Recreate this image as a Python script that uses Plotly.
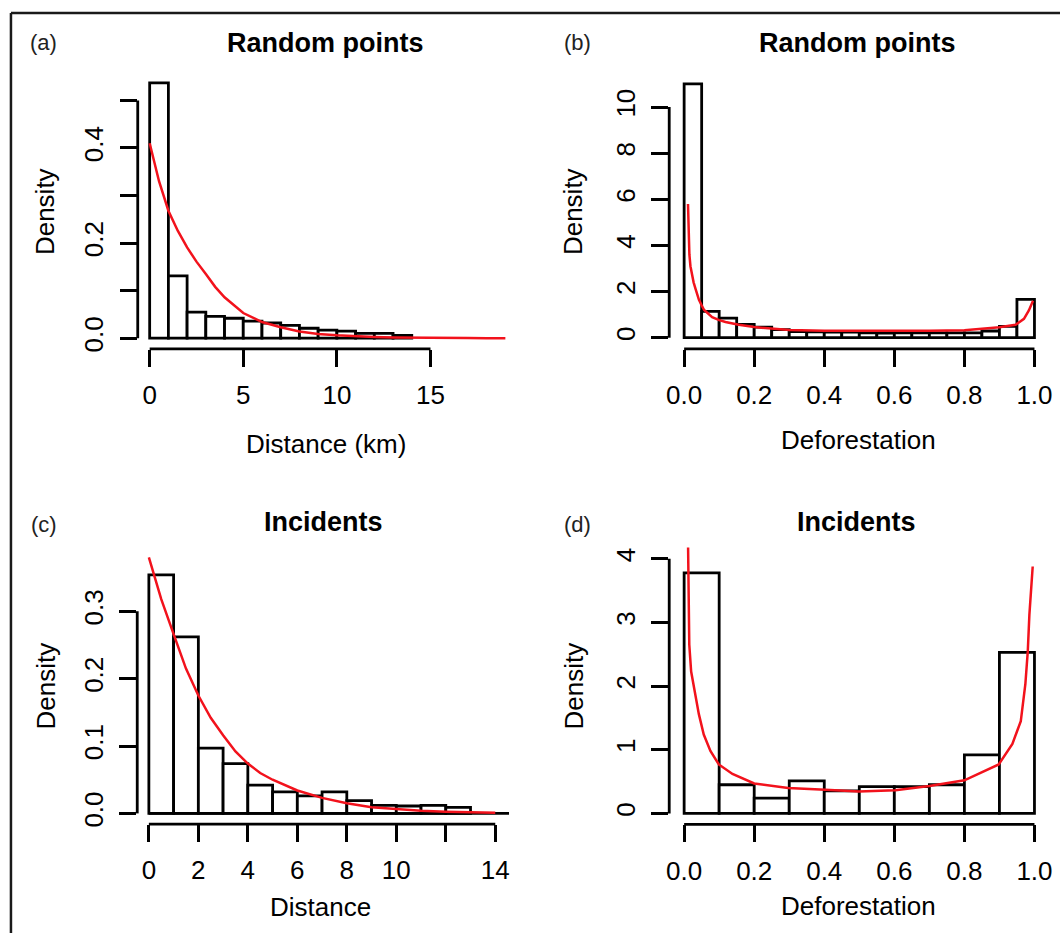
import plotly.graph_objects as go

# ---------------- data ----------------
# (a) Random points - distance (km)
a_edges = [0, 1, 2, 3, 4, 5, 6, 7, 8, 9, 10, 11, 12, 13, 14]
a_density = [0.537, 0.131, 0.055, 0.046, 0.042, 0.036, 0.032, 0.027, 0.021, 0.017, 0.015, 0.010, 0.010, 0.006]
a_curve_x = [0, 0.5, 1, 1.5, 2, 2.5, 3, 3.5, 4, 5, 6, 7, 8, 9, 10, 11, 12, 13, 14, 15, 16, 17, 18, 19]
a_curve_y = [0.41, 0.33, 0.268, 0.226, 0.191, 0.161, 0.135, 0.108, 0.086, 0.053, 0.034, 0.023, 0.014,
             0.009, 0.006, 0.004, 0.0025, 0.0016, 0.001, 0.0007, 0.0004, 0.0003, 0.0002, 0.0001]

# (b) Random points - deforestation
b_edges = [0.0, 0.05, 0.1, 0.15, 0.2, 0.25, 0.3, 0.35, 0.4, 0.45, 0.5, 0.55, 0.6, 0.65, 0.7, 0.75,
           0.8, 0.85, 0.9, 0.95, 1.0]
b_density = [11.0, 1.14, 0.85, 0.58, 0.46, 0.35, 0.27, 0.25, 0.24, 0.24, 0.21, 0.20, 0.21, 0.21,
             0.21, 0.21, 0.21, 0.29, 0.49, 1.66]
b_curve_x = [0.011, 0.0125, 0.015, 0.018, 0.022, 0.027, 0.033, 0.042, 0.05, 0.057, 0.08, 0.1, 0.118,
             0.156, 0.2, 0.25, 0.3, 0.4, 0.5, 0.6, 0.7, 0.8, 0.85, 0.9, 0.946, 0.97, 0.984, 0.996]
b_curve_y = [5.8, 4.5, 3.6, 3.1, 2.7, 2.4, 2.1, 1.65, 1.4, 1.2, 0.89, 0.76, 0.68,
             0.56, 0.46, 0.39, 0.33, 0.30, 0.29, 0.29, 0.30, 0.32, 0.37, 0.45, 0.56, 0.82, 1.18, 1.6]

# (c) Incidents - distance
c_edges = [0, 1, 2, 3, 4, 5, 6, 7, 8, 9, 10, 11, 12, 13]
c_density = [0.354, 0.262, 0.097, 0.074, 0.042, 0.032, 0.026, 0.032, 0.019, 0.012, 0.011, 0.012, 0.009]
c_curve_x = [0, 0.5, 1, 1.5, 2, 2.5, 3, 3.5, 4, 4.5, 5, 6, 7, 8, 9, 10, 11, 12, 13, 14]
c_curve_y = [0.380, 0.318, 0.266, 0.215, 0.175, 0.142, 0.116, 0.092, 0.074, 0.060, 0.050, 0.034,
             0.023, 0.015, 0.009, 0.006, 0.004, 0.0025, 0.0015, 0.001]

# (d) Incidents - deforestation
d_edges = [0.0, 0.1, 0.2, 0.3, 0.4, 0.5, 0.6, 0.7, 0.8, 0.9, 1.0]
d_density = [3.78, 0.45, 0.24, 0.51, 0.355, 0.42, 0.42, 0.45, 0.92, 2.53]
d_curve_x = [0.011, 0.0125, 0.0147, 0.020, 0.032, 0.042, 0.056, 0.075, 0.099, 0.138, 0.20, 0.297,
             0.403, 0.499, 0.603, 0.70, 0.80, 0.898, 0.937, 0.961, 0.974, 0.981, 0.9855, 0.990, 0.995]
d_curve_y = [4.3, 3.54, 2.65, 2.23, 1.87, 1.56, 1.24, 0.98, 0.77, 0.62, 0.47, 0.40,
             0.37, 0.345, 0.365, 0.43, 0.52, 0.77, 1.09, 1.45, 2.03, 2.55, 3.12, 3.54, 3.88]

# tick values / labels
a_xticks = [0, 5, 10, 15]
a_xtext = ["0", "5", "10", "15"]
a_yticks = [0, 0.1, 0.2, 0.3, 0.4, 0.5]
a_ytext = ["0.0", "", "0.2", "", "0.4", ""]
b_xticks = [0, 0.2, 0.4, 0.6, 0.8, 1.0]
b_xtext = ["0.0", "0.2", "0.4", "0.6", "0.8", "1.0"]
b_yticks = [0, 2, 4, 6, 8, 10]
b_ytext = ["0", "2", "4", "6", "8", "10"]
c_xticks = [0, 2, 4, 6, 8, 10, 12, 14]
c_xtext = ["0", "2", "4", "6", "8", "10", "", "14"]
c_yticks = [0, 0.1, 0.2, 0.3]
c_ytext = ["0.0", "0.1", "0.2", "0.3"]
d_xticks = [0, 0.2, 0.4, 0.6, 0.8, 1.0]
d_xtext = ["0.0", "0.2", "0.4", "0.6", "0.8", "1.0"]
d_yticks = [0, 1, 2, 3, 4]
d_ytext = ["0", "1", "2", "3", "4"]

titles = ["Random points", "Random points", "Incidents", "Incidents"]
tags = ["(a)", "(b)", "(c)", "(d)"]
xlabels = ["Distance (km)", "Deforestation", "Distance", "Deforestation"]
ylabel = "Density"

# ---------------- layout geometry (pixels) ----------------
W, H = 1063, 936
FONT = "Liberation Sans, Arial, Helvetica, sans-serif"
RED = "#f2121c"
LW = 2.8


def px_x(p):
    return p / W


def px_y(p):
    return 1 - p / H


panels = [
    dict(edges=a_edges, dens=a_density, cx=a_curve_x, cy=a_curve_y,
         xt=a_xticks, xtt=a_xtext, yt=a_yticks, ytt=a_ytext,
         xdom=(135.5, 512), ydom=(350, 62), xr=[-0.637, 19.36], yr=[-0.0224, 0.5811]),
    dict(edges=b_edges, dens=b_density, cx=b_curve_x, cy=b_curve_y,
         xt=b_xticks, xtt=b_xtext, yt=b_yticks, ytt=b_ytext,
         xdom=(670, 1052), ydom=(350, 62), xr=[-0.0426, 1.0417], yr=[-0.484, 11.96]),
    dict(edges=c_edges, dens=c_density, cx=c_curve_x, cy=c_curve_y,
         xt=c_xticks, xtt=c_xtext, yt=c_yticks, ytt=c_ytext,
         xdom=(135, 509), ydom=(826.7, 545), xr=[-0.470, 14.56], yr=[-0.0158, 0.401]),
    dict(edges=d_edges, dens=d_density, cx=d_curve_x, cy=d_curve_y,
         xt=d_xticks, xtt=d_xtext, yt=d_yticks, ytt=d_ytext,
         xdom=(670, 1052), ydom=(827, 549.3), xr=[-0.0426, 1.0417], yr=[-0.172, 4.178]),
]

title_pos = [(324, 43), (859, 43), (322, 524), (858, 524)]
tag_pos = [(41, 43), (578, 43), (41, 526), (578, 526)]
xlab_pos = [(325, 445), (860, 441), (319, 910), (860, 909)]
ylab_pos = [(43, 212), (574, 212), (43, 688), (574, 688)]

fig = go.Figure()
shapes = []
annotations = []
layout = {}

for i, p in enumerate(panels):
    n = "" if i == 0 else str(i + 1)
    xa, ya = "x" + n, "y" + n
    edges = p["edges"]
    centers = [(edges[k] + edges[k + 1]) / 2 for k in range(len(edges) - 1)]
    widths = [edges[k + 1] - edges[k] for k in range(len(edges) - 1)]
    if i == 2:
        # black baseline under the Incidents distance histogram
        fig.add_trace(go.Scatter(x=[edges[0], p["xr"][1]], y=[0, 0], mode="lines",
                                 line=dict(color="black", width=LW),
                                 xaxis=xa, yaxis=ya, showlegend=False, hoverinfo="skip"))
    fig.add_trace(go.Bar(x=centers, y=p["dens"], width=widths,
                         marker=dict(color="white", line=dict(color="black", width=LW)),
                         xaxis=xa, yaxis=ya, showlegend=False))
    fig.add_trace(go.Scatter(x=p["cx"], y=p["cy"], mode="lines",
                             line=dict(color=RED, width=2.5),
                             xaxis=xa, yaxis=ya, showlegend=False))

    tickfont = dict(family=FONT, size=26, color="black")
    layout["xaxis" + n] = dict(
        domain=[px_x(p["xdom"][0]), px_x(p["xdom"][1])], range=p["xr"],
        anchor=ya, tickmode="array", tickvals=p["xt"], ticktext=p["xtt"],
        ticks="outside", ticklen=17, tickwidth=LW, tickcolor="black",
        showline=False, showgrid=False, zeroline=False, tickfont=tickfont,
        ticklabelstandoff=6, fixedrange=True)
    layout["yaxis" + n] = dict(
        domain=[px_y(p["ydom"][0]), px_y(p["ydom"][1])], range=p["yr"],
        anchor=xa, tickmode="array", tickvals=p["yt"], ticktext=p["ytt"],
        ticks="outside", ticklen=17, tickwidth=LW, tickcolor="black",
        showline=False, showgrid=False, zeroline=False, tickfont=tickfont,
        tickangle=-90, ticklabelstandoff=6, fixedrange=True)

    # R-style axis lines spanning first to last tick
    shapes.append(dict(type="line", xref=xa, yref=ya + " domain",
                       x0=p["xt"][0], x1=p["xt"][-1], y0=0, y1=0,
                       line=dict(color="black", width=LW)))
    shapes.append(dict(type="line", xref=xa + " domain", yref=ya,
                       x0=0, x1=0, y0=p["yt"][0], y1=p["yt"][-1],
                       line=dict(color="black", width=LW)))

    annotations.append(dict(text="<b>" + titles[i] + "</b>", xref="paper", yref="paper",
                            x=px_x(title_pos[i][0]), y=px_y(title_pos[i][1]),
                            xanchor="center", yanchor="middle", showarrow=False,
                            font=dict(family=FONT, size=27, color="black")))
    annotations.append(dict(text=tags[i], xref="paper", yref="paper",
                            x=px_x(tag_pos[i][0]), y=px_y(tag_pos[i][1]),
                            xanchor="center", yanchor="middle", showarrow=False,
                            font=dict(family=FONT, size=22, color="#222")))
    annotations.append(dict(text=xlabels[i], xref="paper", yref="paper",
                            x=px_x(xlab_pos[i][0]), y=px_y(xlab_pos[i][1]),
                            xanchor="center", yanchor="middle", showarrow=False,
                            font=dict(family=FONT, size=26, color="black")))
    annotations.append(dict(text=ylabel, xref="paper", yref="paper", textangle=-90,
                            x=px_x(ylab_pos[i][0]), y=px_y(ylab_pos[i][1]),
                            xanchor="center", yanchor="middle", showarrow=False,
                            font=dict(family=FONT, size=26, color="black")))

# outer frame (top and left edges)
shapes.append(dict(type="line", xref="paper", yref="paper", x0=px_x(8), x1=1.0,
                   y0=px_y(13), y1=px_y(13), line=dict(color="#1a1a1a", width=2.5)))
shapes.append(dict(type="line", xref="paper", yref="paper", x0=px_x(8), x1=px_x(8),
                   y0=px_y(13), y1=0.0, line=dict(color="#1a1a1a", width=2.5)))

fig.update_layout(width=W, height=H, margin=dict(l=0, r=0, t=0, b=0, pad=0),
                  paper_bgcolor="white", plot_bgcolor="white", barmode="overlay",
                  shapes=shapes, annotations=annotations, showlegend=False, **layout)

fig.write_html("out.html", config={"displayModeBar": False},
               post_script="document.body.style.margin='0px';document.body.style.overflow='hidden';")
